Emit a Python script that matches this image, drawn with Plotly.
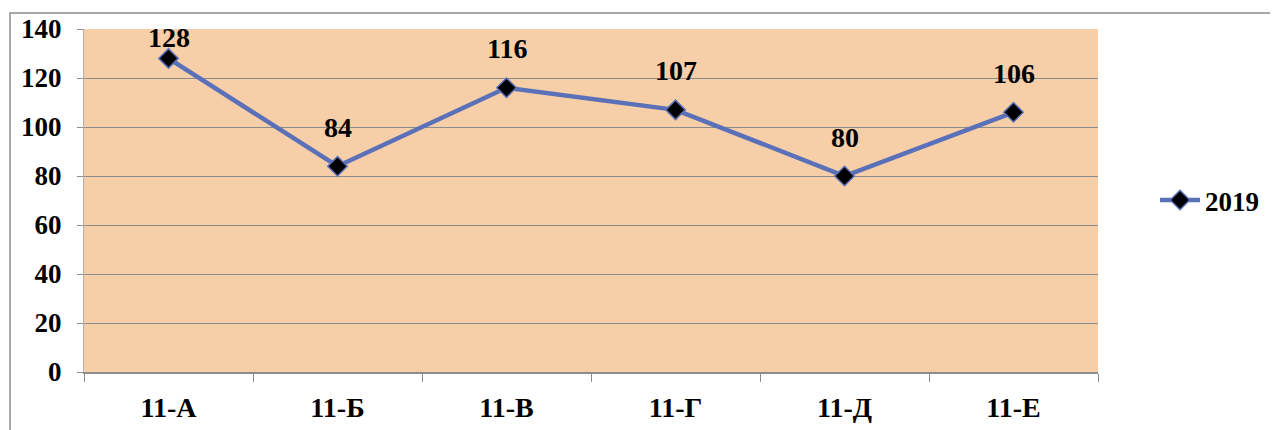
import plotly.graph_objects as go

categories = ["11-А", "11-Б", "11-В", "11-Г", "11-Д", "11-Е"]
values_2019 = [128, 84, 116, 107, 80, 106]
series_name = "2019"
y_ticks = [0, 20, 40, 60, 80, 100, 120, 140]

OFF = 8  # page body margin
W, H = 1278 - OFF, 430 - OFF
L, T = 84 - OFF, 29 - OFF
pw, ph = 1014, 343
R = W - L - pw
B = H - T - ph

font_family = "Times New Roman"
line_color = "#5A70B8"
grid_color = "#8C8C8C"

fig = go.Figure()
fig.add_trace(go.Scatter(
    x=categories, y=values_2019, name=series_name,
    mode="lines+markers",
    line=dict(color=line_color, width=4.5),
    marker=dict(symbol="diamond", size=15, color="black",
                line=dict(color=line_color, width=1.5)),
    cliponaxis=False,
))

ymax = y_ticks[-1]
for c, v in zip(categories, values_2019):
    px_above = (ymax - v) / ymax * ph
    shift = min(39, px_above - 8)
    fig.add_annotation(x=c, y=v, text=str(v), showarrow=False,
                       yshift=shift,
                       font=dict(size=28, color="black", family=font_family, weight="bold"))

def px_to_paper_x(px):
    return (px - OFF - L) / pw

def px_to_paper_y(py):
    return (H - B - (py - OFF)) / ph

fig.add_shape(type="rect", xref="paper", yref="paper",
              x0=px_to_paper_x(10), x1=px_to_paper_x(1300),
              y0=px_to_paper_y(450), y1=px_to_paper_y(13),
              line=dict(color="#8C8C8C", width=1.5), fillcolor="rgba(0,0,0,0)",
              layer="below")

fig.update_layout(
    width=W, height=H,
    margin=dict(l=L, r=R, t=T, b=B, pad=0, autoexpand=False),
    paper_bgcolor="white",
    plot_bgcolor="#F6CEA8",
    font=dict(family=font_family, color="black", size=20),
    showlegend=True,
    legend=dict(x=px_to_paper_x(1155), y=0.5, xanchor="left", yanchor="middle",
                font=dict(size=27, family=font_family, color="black", weight="bold"),
                bgcolor="rgba(0,0,0,0)", itemwidth=40),
    xaxis=dict(
        type="category", tickson="boundaries", ticks="outside", ticklen=8,
        tickcolor=grid_color, showline=True, linecolor=grid_color, linewidth=1.5,
        showgrid=False,
        tickfont=dict(size=28, family=font_family, weight="bold"),
        range=[-0.5, 5.5], automargin=False,
    ),
    yaxis=dict(
        range=[0, ymax], tickvals=y_ticks, ticks="outside", ticklen=6,
        tickcolor=grid_color, showgrid=True, gridcolor=grid_color, gridwidth=1,
        showline=True, linecolor="#B0B0B0", linewidth=1,
        zeroline=False,
        tickfont=dict(size=27, family=font_family, weight="bold"),
        automargin=False,
    ),
)
fig.update_xaxes(ticklabelstandoff=10)
fig.update_yaxes(ticklabelstandoff=10)

fig.write_html("out.html")
